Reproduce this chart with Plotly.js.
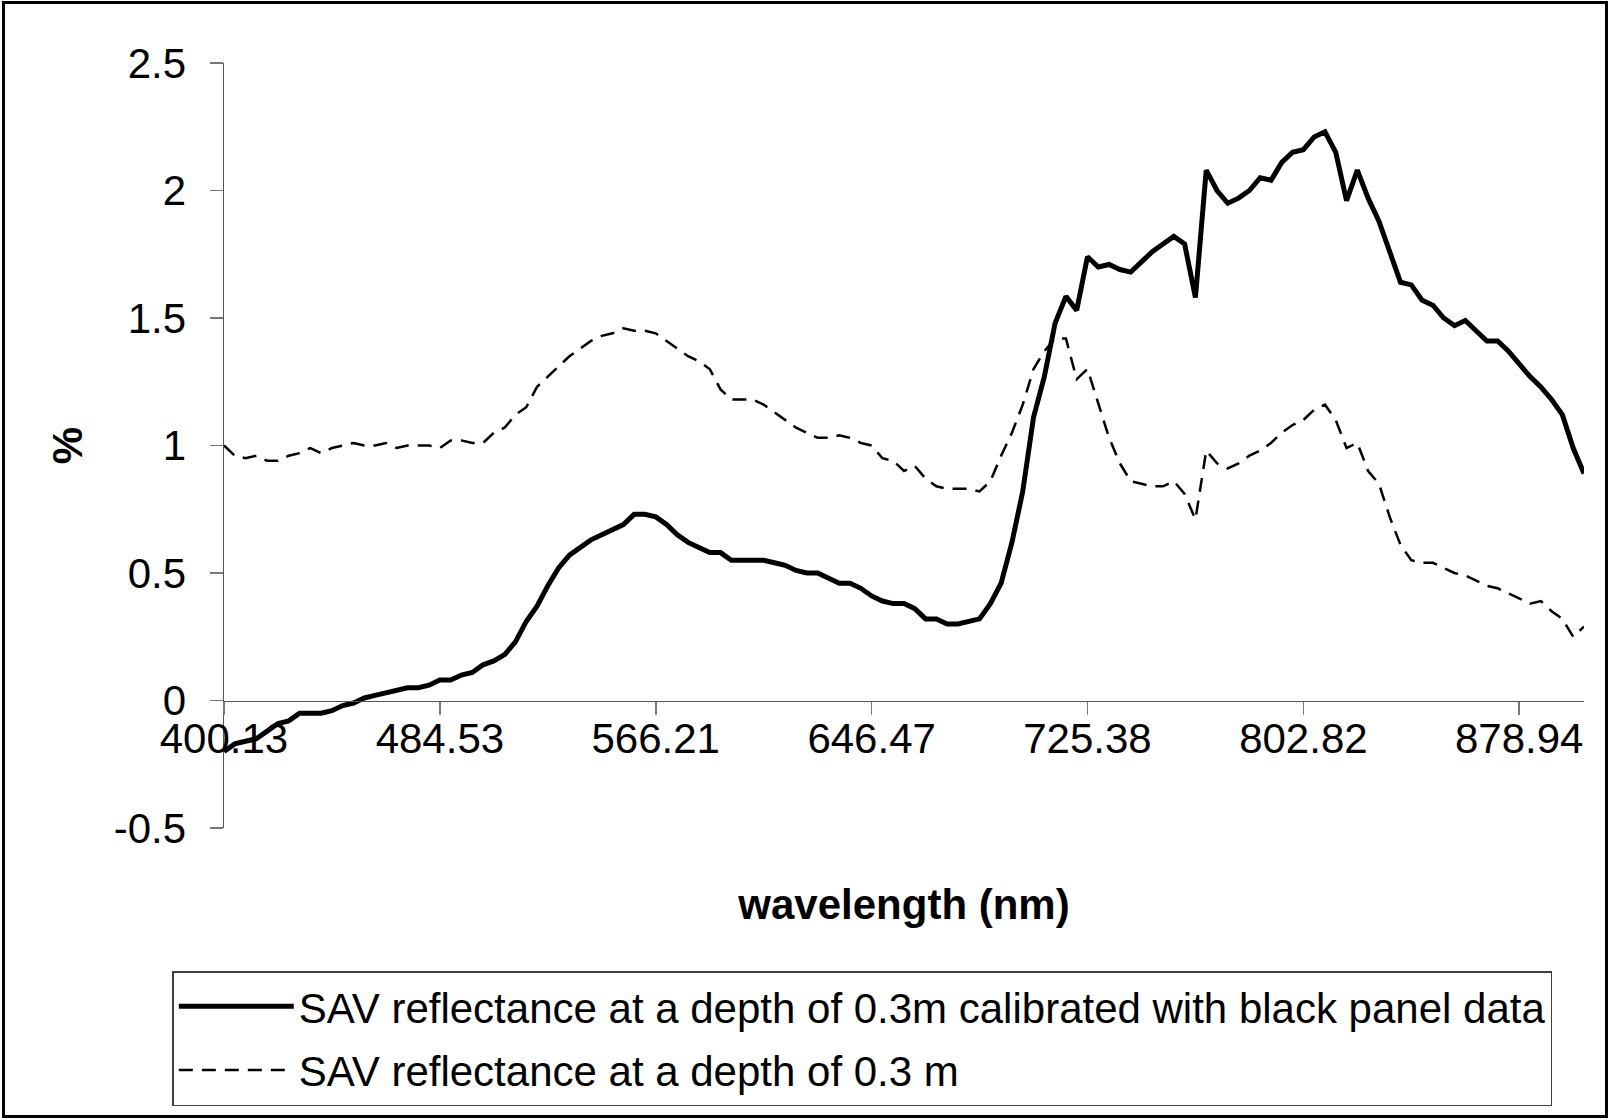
<!DOCTYPE html>
<html>
<head>
<meta charset="utf-8">
<script src="https://cdn.plot.ly/plotly-3.0.1.min.js"></script>
<style>
  html, body { margin: 0; padding: 0; background: #ffffff; }
  #frame { position: absolute; left: 2px; top: 1px; width: 1600px; height: 1111px; border: 3px solid #000; }
  #chart { position: absolute; left: 0; top: 0; width: 1610px; height: 1120px; }
</style>
</head>
<body>
<div id="frame"></div>
<div id="chart"></div>
<script>
// Wavelength tick labels (every 20th band of the spectrometer)
const wavelengthLabels = ['400.13', '484.53', '566.21', '646.47', '725.38', '802.82', '878.94'];
const labelEvery = 20;

const nameCalibrated = 'SAV reflectance at a depth of 0.3m calibrated with black panel data';
const nameRaw = 'SAV reflectance at a depth of 0.3 m';

// Reflectance (%), one value per band
const reflCalibrated = [
  -0.20, -0.17, -0.16, -0.15, -0.12, -0.09, -0.08, -0.05, -0.05, -0.05,
  -0.04, -0.02, -0.01, 0.01, 0.02, 0.03, 0.04, 0.05, 0.05, 0.06,
  0.08, 0.08, 0.10, 0.11, 0.14, 0.155, 0.18, 0.23, 0.31, 0.37,
  0.45, 0.52, 0.57, 0.60, 0.63, 0.65, 0.67, 0.69, 0.73, 0.73,
  0.72, 0.69, 0.65, 0.62, 0.60, 0.58, 0.58, 0.55, 0.55, 0.55,
  0.55, 0.54, 0.53, 0.51, 0.50, 0.50, 0.48, 0.46, 0.46, 0.44,
  0.41, 0.39, 0.38, 0.38, 0.36, 0.32, 0.32, 0.30, 0.30, 0.31,
  0.32, 0.38, 0.46, 0.62, 0.82, 1.11, 1.27, 1.48, 1.585, 1.53,
  1.74, 1.70, 1.71, 1.69, 1.68, 1.72, 1.76, 1.79, 1.82, 1.79,
  1.58, 2.08, 2.00, 1.95, 1.97, 2.00, 2.05, 2.04, 2.11, 2.15,
  2.16, 2.21, 2.23, 2.15, 1.96, 2.08, 1.97, 1.88, 1.76, 1.64,
  1.63, 1.57, 1.55, 1.50, 1.47, 1.49, 1.45, 1.41, 1.41, 1.37,
  1.32, 1.27, 1.23, 1.18, 1.12, 0.99, 0.89
];

const reflRaw = [
  1.00, 0.96, 0.95, 0.96, 0.94, 0.94, 0.96, 0.97, 0.99, 0.97,
  0.99, 1.00, 1.01, 1.00, 1.00, 1.01, 0.99, 1.00, 1.00, 1.00,
  0.99, 1.02, 1.02, 1.01, 1.01, 1.05, 1.07, 1.12, 1.15, 1.23,
  1.27, 1.31, 1.35, 1.38, 1.41, 1.43, 1.44, 1.46, 1.45, 1.45,
  1.44, 1.41, 1.38, 1.35, 1.33, 1.30, 1.22, 1.18, 1.18, 1.18,
  1.16, 1.13, 1.10, 1.07, 1.05, 1.03, 1.03, 1.04, 1.03, 1.01,
  1.00, 0.95, 0.94, 0.90, 0.92, 0.87, 0.84, 0.83, 0.83, 0.83,
  0.82, 0.86, 0.96, 1.05, 1.16, 1.30, 1.37, 1.42, 1.42, 1.26,
  1.30, 1.165, 1.03, 0.93, 0.86, 0.85, 0.84, 0.84, 0.86, 0.81,
  0.71, 0.98, 0.93, 0.91, 0.93, 0.96, 0.98, 1.01, 1.05, 1.08,
  1.10, 1.14, 1.16, 1.10, 0.99, 1.01, 0.90, 0.85, 0.72, 0.61,
  0.55, 0.54, 0.54, 0.52, 0.50, 0.49, 0.47, 0.45, 0.44, 0.42,
  0.40, 0.38, 0.39, 0.35, 0.32, 0.25, 0.29
];

const yTickVals = [-0.5, 0, 0.5, 1, 1.5, 2, 2.5];
const yTickText = ['-0.5', '0', '0.5', '1', '1.5', '2', '2.5'];

const FONT = 'Liberation Sans, Arial, Helvetica, sans-serif';
const FS = 42;
const lastIndex = reflCalibrated.length - 1;

const traces = [
  {
    y: reflCalibrated,
    type: 'scatter',
    mode: 'lines',
    name: nameCalibrated,
    legendgroup: 'a',
    line: { color: '#000000', width: 5 }
  },
  {
    y: reflRaw,
    type: 'scatter',
    mode: 'lines',
    name: nameRaw,
    legendgroup: 'b',
    line: { color: '#000000', width: 2.5, dash: '14px,9px' }
  }
];

const layout = {
  width: 1610,
  height: 1120,
  margin: { l: 224, r: 26, t: 63, b: 292, pad: 0 },
  paper_bgcolor: 'rgba(0,0,0,0)',
  plot_bgcolor: 'rgba(0,0,0,0)',
  font: { family: FONT, size: FS, color: '#000000' },
  showlegend: true,
  xaxis: {
    range: [0, lastIndex],
    anchor: 'free',
    position: 0.5 / 3,
    showline: true,
    linecolor: '#555555',
    linewidth: 1.5,
    ticks: 'outside',
    ticklen: 13,
    tickwidth: 1.5,
    tickcolor: '#777777',
    tickvals: wavelengthLabels.map((_, i) => i * labelEvery),
    ticktext: wavelengthLabels,
    tickfont: { family: FONT, size: FS, color: '#000000' },
    ticklabelstandoff: -12,
    showgrid: false,
    zeroline: false,
    title: { text: '<b>wavelength (nm)</b>', font: { family: FONT, size: FS, color: '#000000' }, standoff: 128 }
  },
  yaxis: {
    range: [-0.5, 2.5],
    domain: [0, 1],
    showline: true,
    linecolor: '#555555',
    linewidth: 1.5,
    ticks: 'outside',
    ticklen: 13,
    tickwidth: 1.5,
    tickcolor: '#777777',
    tickvals: yTickVals,
    ticktext: yTickText,
    tickfont: { family: FONT, size: FS, color: '#000000' },
    ticklabelstandoff: 15,
    showgrid: false,
    zeroline: false,
    title: { text: '<b>%</b>', font: { family: FONT, size: FS, color: '#000000' }, standoff: 18 }
  },
  legend: {
    x: -0.038,
    y: -0.187,
    xanchor: 'left',
    yanchor: 'top',
    bgcolor: '#ffffff',
    bordercolor: '#404040',
    borderwidth: 1.5,
    font: { family: FONT, size: FS, color: '#000000' },
    traceorder: 'grouped',
    tracegroupgap: 6,
    itemwidth: 115
  }
};

Plotly.newPlot('chart', traces, layout, { staticPlot: true, displayModeBar: false });
</script>
</body>
</html>
